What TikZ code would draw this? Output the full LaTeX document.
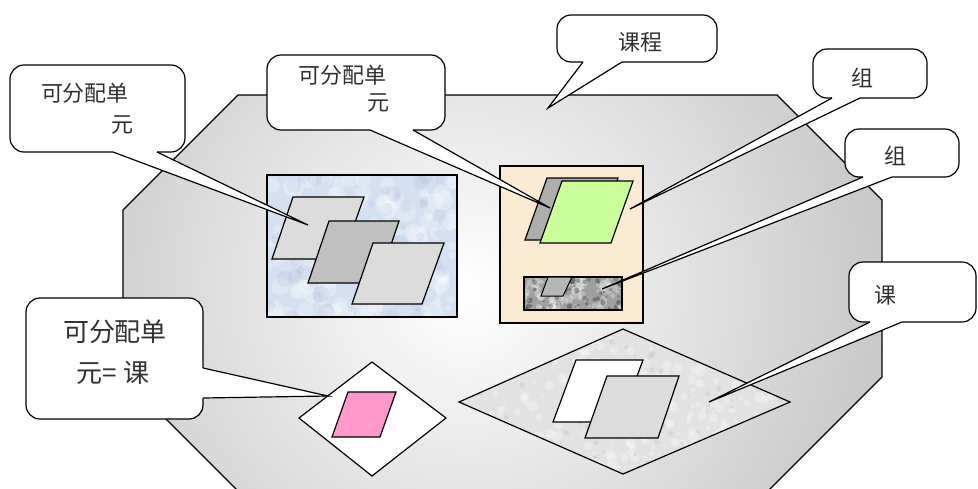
\documentclass[tikz,border=0pt]{standalone}
\usepackage{fontspec}
\newfontfamily\cjk{Noto Sans CJK SC}
\definecolor{octgray}{HTML}{BEBEBE}
\definecolor{bluebox}{HTML}{D4E0F1}
\definecolor{peach}{HTML}{FBEAD2}
\definecolor{lgray}{HTML}{DCDCDC}
\definecolor{mgray}{HTML}{C0C0C0}
\definecolor{granite}{HTML}{A0A0A0}
\definecolor{lgranite}{HTML}{E2E2E2}
\definecolor{lgreen}{HTML}{CCFF99}
\definecolor{pink}{HTML}{FF99CC}
\definecolor{txtcol}{HTML}{303030}
\tikzset{
  txt/.style={font=\cjk\fontsize{22}{26}\selectfont, inner sep=0pt, text=txtcol},
  bigtxt/.style={font=\cjk\fontsize{26}{30}\selectfont, inner sep=0pt, text=txtcol},
}
\newcommand\bubble[8]{%
  \draw[fill=white, rounded corners=14pt] (#2,#3) rectangle (#4,#5);
  \coordinate (#1) at (#8);
  \fill[white] ({#6},{#5-3}) -- ({#6},{#5}) -- (#1) -- ({#7},{#5}) -- ({#7},{#5-3}) -- cycle;
  \draw ({#6},{#5}) -- (#1) -- ({#7},{#5});
}
\newcommand\speckle[8]{% x0 y0 w h count color minsize extra
  \foreach \i in {1,...,#5}{\fill[#6] ({#1+#3*rnd},{#2+#4*rnd}) circle ({#7+#8*rnd});}
}
\begin{document}
\begin{tikzpicture}[x=1pt,y=-1pt,line width=1.2pt]
\useasboundingbox (0,0) rectangle (978,488);
\pgfmathsetseed{12}
% octagon
\begin{scope}
  \clip (238,95) -- (777,95) -- (882,200) -- (882,377) -- (766,493) -- (240,493) -- (123,376) -- (123,210) -- cycle;
  \shade[inner color=white, outer color=octgray] (465,290) circle (500);
\end{scope}
\draw (240,493) -- (123,376) -- (123,210) -- (238,95) -- (777,95) -- (882,200) -- (882,377) -- (766,493);
% blue box
\fill[bluebox] (267,175) rectangle (457,317);
\begin{scope}
  \clip (267,175) rectangle (457,317);
  \speckle{267}{175}{190}{142}{140}{white, opacity=0.25}{3}{7}
  \speckle{267}{175}{190}{142}{60}{bluebox!80!blue!60!gray, opacity=0.12}{3}{6}
\end{scope}
\draw (267,175) rectangle (457,317);
\draw[fill=lgray] (272,259) -- (293,197) -- (364,197) -- (342,259) -- cycle;
\draw[fill=mgray] (308,283) -- (329,221) -- (399,221) -- (378,283) -- cycle;
\draw[fill=lgray] (352,304) -- (373,243) -- (444,243) -- (422,304) -- cycle;
% peach box
\draw[fill=peach] (500,166) rectangle (643,323);
\draw[fill=mgray!90!black] (525,240) -- (547,178) -- (618,178) -- (596,240) -- cycle;
\draw[fill=lgreen] (540,243) -- (562,181) -- (633,181) -- (611,243) -- cycle;
\fill[granite] (524,277) rectangle (622,310);
\begin{scope}
  \clip (524,277) rectangle (622,310);
  \speckle{524}{277}{98}{33}{90}{white, opacity=0.3}{1.5}{3}
  \speckle{524}{277}{98}{33}{60}{black, opacity=0.25}{1}{2}
\end{scope}
\draw (524,277) rectangle (622,310);
\draw[fill=mgray!95!black, line width=1pt] (541,296) -- (548,277) -- (572,277) -- (563,296) -- cycle;
% white diamond
\draw[fill=white] (372,362) -- (446,418) -- (372,476) -- (299,418) -- cycle;
\draw[fill=pink] (332,437) -- (348,392) -- (396,392) -- (380,437) -- cycle;
% big diamond
\fill[lgranite] (459,402) -- (623,329) -- (790,402) -- (623,474) -- cycle;
\begin{scope}
  \clip (459,402) -- (623,329) -- (790,402) -- (623,474) -- cycle;
  \speckle{459}{329}{331}{145}{300}{white, opacity=0.3}{1.5}{4}
  \speckle{459}{329}{331}{145}{150}{gray, opacity=0.12}{1}{2}
\end{scope}
\draw (459,402) -- (623,329) -- (790,402) -- (623,474) -- cycle;
\draw[fill=white] (553,422) -- (576,360) -- (643,360) -- (620,422) -- cycle;
\draw[fill=lgray] (585,438) -- (607,376) -- (679,376) -- (658,438) -- cycle;
% callouts
\bubble{c1}{10}{65}{185}{152}{113}{157}{308,225}
\node[txt] (t1a) at (85,93) {可分配单};
\node[txt] (t1b) at (122,125) {元};
\bubble{c2}{267}{55}{445}{130}{370}{413}{550,208}
\node[txt] (t2a) at (342,75) {可分配单};
\node[txt] (t2b) at (378,103) {元};
\bubble{c3}{557}{15}{717}{62}{583}{622}{548,108}
\node[txt] (t3) at (640,42) {课程};
\bubble{c4}{813}{49}{927}{98}{832}{860}{630,209}
\node[txt] (t4) at (862,78) {组};
\bubble{c5}{845}{129}{959}{177}{863}{892}{602,289}
\node[txt] (t5) at (895,156) {组};
\bubble{c6}{849}{262}{976}{322}{870}{902}{709,402}
\node[txt] (t6) at (885,295) {课};
% callout 7 (pointer on right side)
\draw[fill=white, rounded corners=14pt] (26,298) rectangle (203,419);
\coordinate (c7) at (328,396);
\fill[white] (200,368) -- (203,368) -- (c7) -- (203,398) -- (200,398) -- cycle;
\draw (203,368) -- (c7) -- (203,398);
\node[bigtxt] (t7a) at (115,332) {可分配单};
\node[bigtxt] (t7b) at (113,373) {元= 课};
\end{tikzpicture}
\end{document}
